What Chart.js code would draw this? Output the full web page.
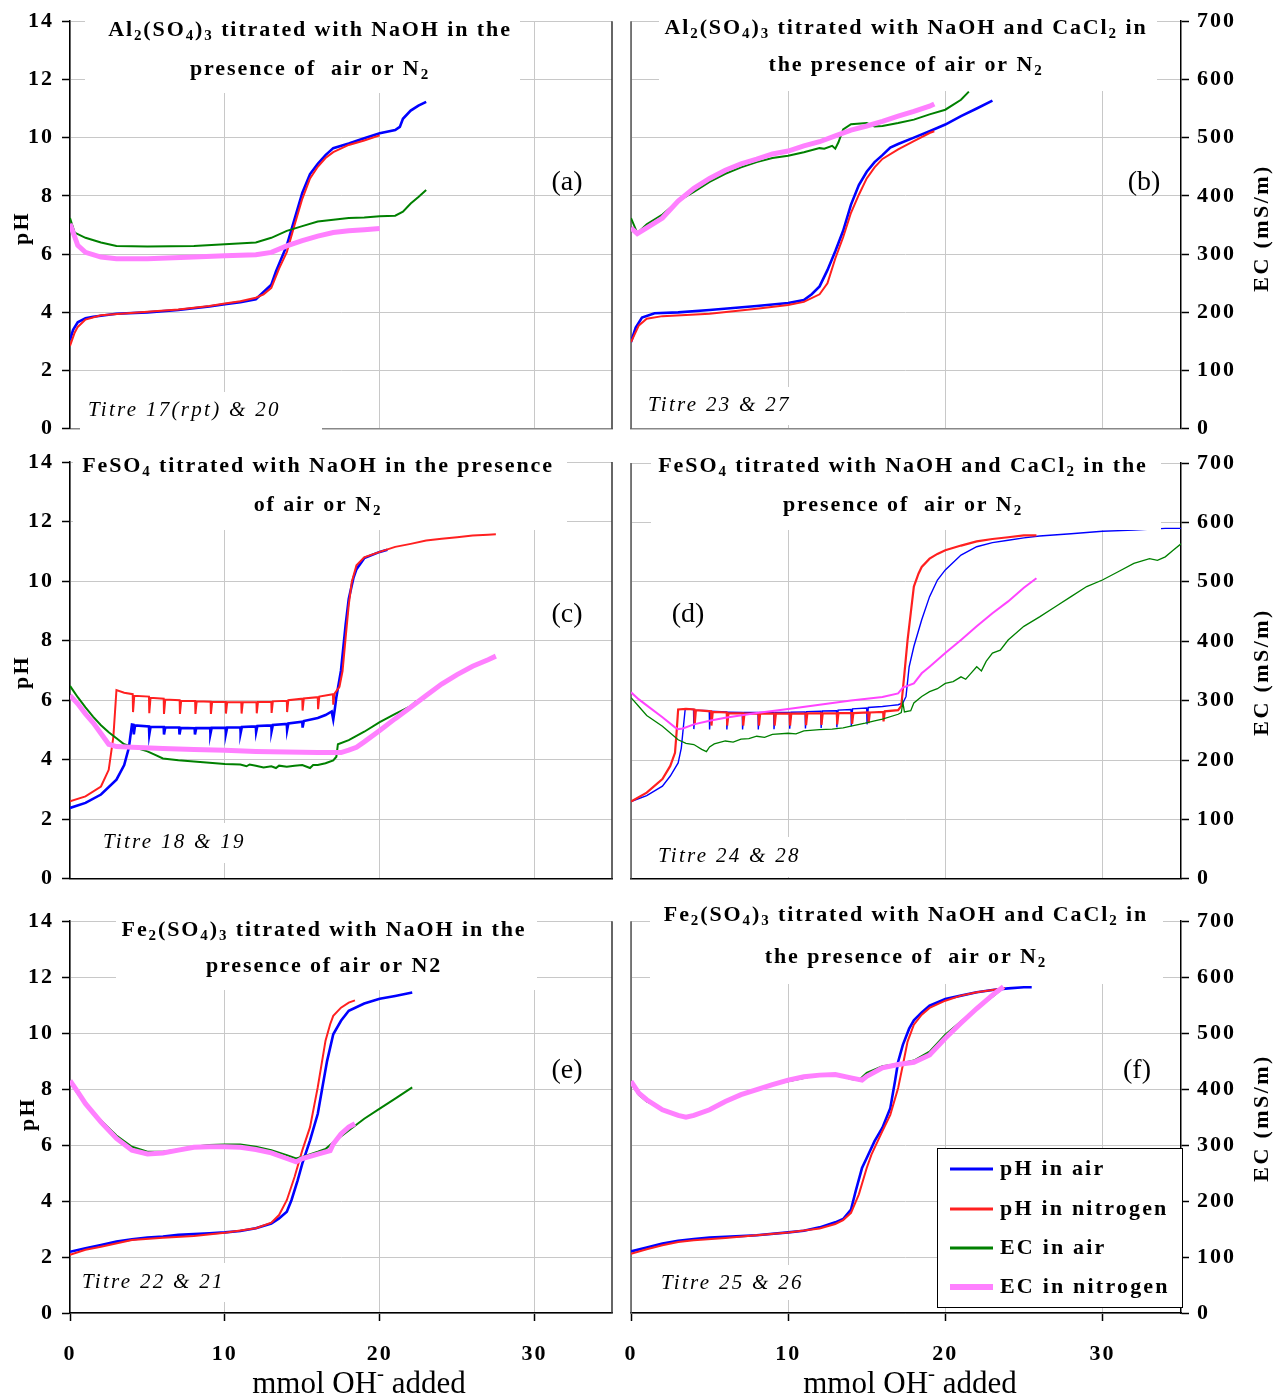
<!DOCTYPE html>
<html lang="en">
<head>
<meta charset="UTF-8">
<title>Titration of Al and Fe sulfates - pH and EC</title>
<style>
  html, body { margin: 0; padding: 0; background: #fff; }
  body { width: 1281px; height: 1400px; position: relative; overflow: hidden; }
  canvas { position: absolute; }
</style>
</head>
<body>

<script src="https://cdn.jsdelivr.net/npm/chart.js"></script>
<script>
// ---- axis ticks and legend names ----
const pHTicks = [0, 2, 4, 6, 8, 10, 12, 14];
const ecTicks = [0, 100, 200, 300, 400, 500, 600, 700];
const mmolTicks = [0, 10, 20, 30];
const seriesNames = ['pH in air', 'pH in nitrogen', 'EC in air', 'EC in nitrogen'];

// ---- (a) Al2(SO4)3 + NaOH : [mmol OH-, pH] and [mmol OH-, EC mS/m] ----
const aPhAir = [[0,3.05],[0.2,3.4],[0.5,3.66],[1,3.8],[1.5,3.85],[3,3.95],[5,4.0],[7,4.08],[9,4.2],[10,4.28],[11,4.35],[12,4.45],[12.5,4.7],[13,4.95],[13.3,5.4],[14,6.3],[14.5,7.2],[15,8.1],[15.5,8.75],[16,9.1],[16.5,9.4],[17,9.64],[18,9.8],[19,9.98],[20,10.15],[21,10.26],[21.3,10.37],[21.5,10.65],[22,10.93],[22.5,11.1],[23,11.23]];
const aPhN2 = [[0,2.85],[0.3,3.3],[0.5,3.5],[1,3.75],[2,3.9],[5,4.02],[7,4.1],[9,4.22],[10,4.3],[11,4.38],[12,4.5],[12.5,4.62],[13,4.84],[13.5,5.5],[14,6.07],[14.5,7.0],[15,7.9],[15.5,8.6],[16,9.0],[16.5,9.3],[17,9.5],[18,9.75],[19,9.9],[20,10.08]];
const aEcAir = [[0,362],[0.3,337],[1,328],[2,320],[3,314],[5,313],[8,314],[10,317],[12,320],[13,328],[14,340],[15,348],[16,356],[17,359],[18,362],[19,363],[20,365],[21,366],[21.5,373],[22,387],[22.5,398],[23,410]];
const aEcN2 = [[0,352],[0.3,330],[0.5,315],[1,303],[2,295],[3,292],[5,292],[8,295],[10,297],[12,299],[13,303],[14,314],[15,323],[16,331],[17,337],[18,340],[19,342],[20,344]];

// ---- (b) Al2(SO4)3 + NaOH + CaCl2 ----
const bPhAir = [[0,2.98],[0.3,3.48],[0.7,3.82],[1.5,3.97],[3,4.0],[5,4.08],[8,4.22],[10,4.32],[11,4.42],[11.5,4.62],[12,4.89],[12.5,5.45],[13,6.1],[13.5,6.8],[14,7.7],[14.5,8.37],[15,8.83],[15.5,9.16],[16,9.4],[16.5,9.66],[17,9.78],[18,10.0],[19,10.22],[20,10.45],[21,10.74],[22,11.0],[23,11.27]];
const bPhN2 = [[0,2.98],[0.5,3.55],[1,3.78],[2,3.87],[5,3.95],[8,4.12],[10,4.25],[11,4.36],[12,4.62],[12.5,5.0],[13,5.85],[13.5,6.58],[14,7.42],[14.5,8.04],[15,8.6],[15.5,8.98],[16,9.27],[17,9.6],[18,9.88],[19,10.16],[19.3,10.22]];
const bEcAir = [[0,362],[0.4,336],[1,351],[2,368],[3,391],[4,407],[5,424],[6,438],[7,449],[8,458],[9,465],[10,469],[11,475],[12,482],[12.3,481],[12.8,486],[13,481],[13.2,492],[13.5,514],[14,523],[15,525],[15.5,519],[16,520],[17,525],[18,531],[19,540],[20,548],[21,565],[21.5,579]];
const bEcN2 = [[0,345],[0.4,335],[1,345],[2,362],[3,391],[4,413],[5,430],[6,444],[7,455],[8,463],[9,472],[10,477],[11,486],[12,493],[13,503],[14,513],[15,520],[16,528],[17,537],[18,545],[19,554],[19.3,558]];

// ---- (c) FeSO4 + NaOH ----
const cPhAir = [[0,2.38],[1,2.55],[2,2.83],[3,3.33],[3.5,3.82],[3.8,4.4],[4.0,5.18],[4.1,5.17],[4.12,4.85],[4.2,5.15],[5.1,5.12],[5.12,4.85],[5.2,5.1],[6.05,5.1],[6.07,4.85],[6.15,5.08],[7.05,5.08],[7.07,4.85],[7.15,5.07],[8.05,5.06],[8.07,4.85],[8.15,5.06],[9.05,5.06],[9.07,4.87],[9.15,5.07],[10.05,5.07],[10.07,4.88],[10.15,5.08],[11.0,5.09],[11.02,4.9],[11.1,5.1],[12.0,5.12],[12.02,4.93],[12.1,5.13],[13.0,5.15],[13.02,4.97],[13.1,5.17],[14.0,5.2],[14.02,5.0],[14.1,5.22],[15,5.28],[15.02,5.08],[15.1,5.3],[16,5.4],[16.5,5.5],[16.9,5.62],[17.0,5.35],[17.1,5.7],[17.2,6.1],[17.5,7.0],[17.8,8.54],[18.0,9.4],[18.3,10.1],[18.5,10.4],[19,10.77],[20,10.98],[20.5,11.05]];
const cPhN2 = [[0,2.6],[1,2.77],[2,3.1],[2.5,3.66],[2.8,4.77],[3.0,6.34],[3.5,6.25],[4.05,6.2],[4.07,5.6],[4.15,6.15],[5.1,6.12],[5.12,5.56],[5.2,6.08],[6.05,6.05],[6.07,5.54],[6.15,6.02],[7.08,6.0],[7.1,5.54],[7.18,5.98],[8.08,5.97],[8.1,5.54],[8.18,5.96],[9.08,5.95],[9.1,5.54],[9.18,5.94],[10.05,5.94],[10.07,5.55],[10.15,5.93],[11.06,5.93],[11.08,5.55],[11.16,5.93],[12.04,5.93],[12.06,5.56],[12.14,5.94],[13.0,5.95],[13.02,5.57],[13.1,5.96],[14.0,5.98],[14.02,5.6],[14.1,6.0],[15.0,6.05],[15.02,5.65],[15.1,6.06],[16.0,6.1],[16.02,5.7],[16.1,6.12],[16.98,6.2],[17.0,5.85],[17.08,6.22],[17.4,6.45],[17.6,6.98],[17.8,8.1],[18.0,9.2],[18.2,9.98],[18.5,10.53],[19,10.8],[20,10.98],[21,11.15],[22,11.25],[23,11.36],[24,11.42],[25,11.47],[26,11.53],[27,11.56],[27.5,11.57]];
const cEcAir = [[0,324],[0.5,305],[1,288],[1.5,272],[2,258],[2.5,246],[3,236],[3.5,226],[4,222],[5,214],[5.5,208],[6,202],[7,199],[8,197],[9,195],[10,193],[11,192],[11.4,189],[11.6,192],[12,190],[12.5,187],[13,189],[13.3,186],[13.5,190],[14,188],[14.5,190],[15,191],[15.5,186],[15.7,191],[16,191],[16.5,194],[17,199],[17.2,205],[17.3,226],[18,233],[19,247],[20,263],[21,277],[22,290],[22.4,299]];
const cEcN2 = [[0,308],[0.5,294],[1,277],[1.5,262],[2,244],[2.5,226],[3,222],[4,221],[6,219],[8,217],[10,216],[12,214],[14,213],[16,212],[17.5,212],[18,216],[18.5,221],[19,230],[20,249],[21,269],[22,288],[23,308],[24,327],[25,343],[26,357],[27,368],[27.5,374]];

// ---- (d) FeSO4 + NaOH + CaCl2 ----
const dPhAir = [[0,2.6],[1,2.8],[2,3.12],[2.5,3.46],[3,3.9],[3.2,4.4],[3.35,5.2],[3.45,5.72],[3.98,5.7],[4.0,5.04],[4.08,5.68],[4.98,5.66],[5.0,5.03],[5.08,5.64],[6.08,5.62],[6.1,5.03],[6.18,5.61],[7.08,5.6],[7.1,5.03],[7.18,5.6],[8.08,5.6],[8.1,5.03],[8.18,5.6],[9.08,5.6],[9.1,5.04],[9.18,5.6],[10.08,5.6],[10.1,5.05],[10.18,5.61],[11.08,5.62],[11.1,5.06],[11.18,5.63],[12.08,5.64],[12.1,5.08],[12.18,5.65],[13.08,5.66],[13.1,5.1],[13.18,5.68],[14.0,5.7],[14.02,5.14],[14.1,5.72],[15.0,5.75],[15.02,5.2],[15.1,5.77],[16.0,5.8],[16.5,5.83],[17.0,5.86],[17.3,5.92],[17.5,6.14],[17.7,7.14],[18,7.82],[18.5,8.72],[19,9.5],[19.5,10.06],[20,10.4],[21,10.9],[22,11.18],[23,11.32],[24,11.4],[25,11.48],[26,11.54],[28,11.62],[30,11.7],[32,11.74],[34,11.8],[35,11.8]];
const dPhN2 = [[0,2.6],[1,2.9],[2,3.36],[2.5,3.8],[2.8,4.24],[2.9,4.92],[3.0,5.7],[3.5,5.72],[4.03,5.7],[4.05,5.18],[4.13,5.68],[5.1,5.64],[5.12,5.16],[5.2,5.62],[6.1,5.6],[6.12,5.16],[6.2,5.58],[7.12,5.57],[7.14,5.16],[7.22,5.56],[8.12,5.56],[8.14,5.16],[8.22,5.56],[9.12,5.56],[9.14,5.16],[9.22,5.56],[10.1,5.56],[10.12,5.16],[10.2,5.56],[11.12,5.56],[11.14,5.17],[11.22,5.57],[12.1,5.57],[12.12,5.18],[12.2,5.57],[13.1,5.58],[13.12,5.2],[13.2,5.58],[14.05,5.58],[14.07,5.22],[14.15,5.58],[15.1,5.6],[15.12,5.24],[15.2,5.6],[16.05,5.62],[16.07,5.3],[16.15,5.64],[17.0,5.68],[17.2,5.82],[17.4,6.92],[17.6,8.04],[17.8,8.94],[18,9.84],[18.3,10.28],[18.5,10.5],[19,10.78],[19.5,10.94],[20,11.06],[21,11.22],[22,11.36],[23,11.44],[24,11.5],[25,11.56],[25.8,11.56]];
const dEcAir = [[0,305],[0.5,290],[1,275],[2,257],[3,234],[3.5,228],[4,226],[4.5,218],[4.8,214],[5,222],[5.3,227],[6,232],[6.5,230],[7,235],[7.5,236],[8,240],[8.5,238],[9,243],[10,245],[10.5,244],[11,249],[12,251],[12.8,252],[13.5,254],[14,257],[14.9,262],[15.5,266],[16,269],[17,277],[17.2,280],[17.3,297],[17.4,281],[17.8,283],[18,296],[18.5,307],[19,315],[19.5,320],[20,329],[20.5,332],[21,340],[21.3,336],[21.6,345],[22,357],[22.3,350],[22.6,366],[23,380],[23.5,385],[24,402],[25,425],[26,441],[27,458],[28,475],[29,492],[30,503],[31,517],[32,531],[33,539],[33.5,536],[34,542],[34.5,553],[35,564]];
const dEcN2 = [[0,314],[0.5,302],[1,292],[2,272],[2.8,255],[3,252],[3.3,253],[4,260],[5,266],[6,271],[8,279],[10,286],[12,293],[14,300],[16,306],[17,312],[17.3,322],[18,329],[18.5,346],[19,357],[20,380],[21,402],[22,425],[23,447],[24,467],[25,490],[25.8,506]];

// ---- (e) Fe2(SO4)3 + NaOH ----
const ePhAir = [[0,2.19],[1,2.31],[2,2.43],[3,2.55],[4,2.63],[5,2.7],[6,2.73],[7,2.79],[8,2.82],[9,2.85],[10,2.88],[11,2.93],[12,3.03],[13,3.2],[13.5,3.38],[14,3.62],[14.3,4.03],[14.7,4.74],[15,5.34],[15.5,6.17],[16,7.12],[16.3,8.07],[16.6,9.0],[17,9.96],[17.5,10.44],[18,10.8],[19,11.06],[20,11.23],[21,11.33],[22.1,11.45]];
const ePhN2 = [[0,2.08],[1,2.26],[2,2.37],[4,2.61],[6,2.69],[8,2.75],[10,2.87],[12,3.03],[13,3.23],[13.5,3.5],[14,4.03],[14.5,4.86],[15,5.81],[15.5,6.64],[16,8.07],[16.5,9.73],[16.8,10.32],[17,10.62],[17.5,10.91],[18,11.09],[18.4,11.17]];
const eEcAir = [[0,412],[0.5,392],[1,374],[2,344],[3,317],[4,297],[5,288],[6,288],[7,292],[8,297],[9,300],[10,301],[11,301],[12,297],[13,291],[14,282],[14.6,276],[15,279],[16,288],[16.5,293],[17,305],[18,326],[19,347],[20,365],[21,383],[22.1,403]];
const eEcN2 = [[0,415],[0.5,395],[1,374],[2,341],[3,312],[4,291],[5,284],[6,286],[7,291],[8,296],[9,297],[10,297],[11,296],[12,292],[13,286],[14,276],[14.6,270],[15,276],[16,284],[16.8,290],[17,302],[17.5,320],[18,332],[18.4,338]];

// ---- (f) Fe2(SO4)3 + NaOH + CaCl2 ----
const fPhAir = [[0,2.2],[1,2.34],[2,2.48],[3,2.58],[4,2.64],[5,2.7],[6,2.72],[8,2.78],[10,2.88],[11,2.94],[12,3.06],[13,3.24],[13.5,3.36],[14,3.7],[14.3,4.36],[14.7,5.18],[15,5.54],[15.5,6.14],[16,6.62],[16.5,7.32],[16.8,8.28],[17,8.98],[17.3,9.58],[17.7,10.16],[18,10.46],[18.5,10.74],[19,10.98],[20,11.22],[21,11.34],[22,11.46],[23,11.54],[24,11.6],[25,11.64],[25.5,11.64]];
const fPhN2 = [[0,2.12],[1,2.28],[2,2.42],[3,2.54],[4,2.6],[6,2.68],[8,2.78],[10,2.88],[12,3.02],[13,3.18],[13.5,3.32],[14,3.58],[14.5,4.24],[15,5.18],[15.3,5.66],[15.7,6.14],[16,6.5],[16.5,7.08],[17,8.04],[17.3,8.86],[17.6,9.7],[18,10.3],[18.5,10.66],[19,10.9],[20,11.16],[21,11.34],[22,11.46],[23,11.54],[23.8,11.6]];
const fEcAir = [[0,411],[0.5,390],[1,378],[1.5,371],[2,363],[3,354],[3.5,351],[4,354],[5,363],[6,378],[7,390],[8,400],[9,408],[10,414],[11,420],[12,426],[13,426],[13.5,423],[14,418],[14.5,416],[15,429],[16,441],[17,445],[18,451],[19,467],[20,497],[21,521],[22,544],[23,565],[23.7,581]];
const fEcN2 = [[0,414],[0.5,393],[1,381],[2,363],[3,353],[3.5,350],[4,353],[5,363],[6,378],[7,390],[8,399],[9,408],[10,416],[11,422],[12,425],[13,426],[14,420],[14.7,416],[15,423],[16,438],[17,444],[18,448],[19,461],[20,491],[21,518],[22,544],[23,568],[23.7,583]];

// ---- layout of the six panels (page pixels) ----
const panels = [
  { side: 'left', left: 0, top: 0, w: 640, h: 450, plotTop: 17, plotBottom: 435, showX: false, xBorder: '#888',
    series: [aPhAir, aPhN2, aEcAir, aEcN2],
    title: ['Al_2(SO_4)_3 titrated with NaOH in the', 'presence of  air or N_2'], titleX: 310, titleY: [30, 69],
    titleBox: [85, 8, 520, 93], tag: '(a)', tagPos: [567, 183],
    titre: 'Titre 17(rpt) & 20', titrePos: [88, 410], titreBox: [80, 392, 322, 438], axisTitle: [22, 228] },
  { side: 'right', left: 620, top: 0, w: 661, h: 450, plotTop: 19, plotBottom: 436, showX: false, xBorder: '#888',
    series: [bPhAir, bPhN2, bEcAir, bEcN2],
    title: ['Al_2(SO_4)_3 titrated with NaOH and CaCl_2 in', 'the presence of air or N_2'], titleX: 906, titleY: [28, 65],
    titleBox: [659, 8, 1157, 91], tag: '(b)', tagPos: [1144, 183],
    titre: 'Titre 23 & 27', titrePos: [648, 405], titreBox: [640, 387, 800, 425], axisTitle: [1262, 228] },
  { side: 'left', left: 0, top: 440, w: 640, h: 460, plotTop: 462, plotBottom: 883, showX: false, xBorder: '#000',
    series: [cPhAir, cPhN2, cEcAir, cEcN2],
    title: ['FeSO_4 titrated with NaOH in the presence', 'of air or N_2'], titleX: 318, titleY: [466, 505],
    titleBox: [73, 452, 567, 530], tag: '(c)', tagPos: [567, 615],
    titre: 'Titre 18 & 19', titrePos: [103, 842], titreBox: [92, 823, 262, 863], axisTitle: [22, 672] },
  { side: 'right', left: 620, top: 440, w: 661, h: 460, plotTop: 463, plotBottom: 880, showX: false, xBorder: '#000', thin: true,
    series: [dPhAir, dPhN2, dEcAir, dEcN2],
    title: ['FeSO_4 titrated with NaOH and CaCl_2 in the', 'presence of  air or N_2'], titleX: 903, titleY: [466, 505],
    titleBox: [651, 452, 1161, 530], tag: '(d)', tagPos: [688, 615],
    titre: 'Titre 24 & 28', titrePos: [658, 856], titreBox: [648, 837, 800, 877], axisTitle: [1262, 672] },
  { side: 'left', left: 0, top: 900, w: 640, h: 500, plotTop: 918, plotBottom: 1313, showX: true, xBorder: '#000',
    series: [ePhAir, ePhN2, eEcAir, eEcN2],
    title: ['Fe_2(SO_4)_3 titrated with NaOH in the', 'presence of air or N2'], titleX: 324, titleY: [930, 966],
    titleBox: [116, 908, 537, 990], tag: '(e)', tagPos: [567, 1071],
    titre: 'Titre 22 & 21', titrePos: [82, 1282], titreBox: [76, 1263, 230, 1302], axisTitle: [28, 1114],
    xTitle: [359, 1385] },
  { side: 'right', left: 620, top: 900, w: 661, h: 500, plotTop: 920, plotBottom: 1313, showX: true, xBorder: '#000',
    series: [fPhAir, fPhN2, fEcAir, fEcN2],
    title: ['Fe_2(SO_4)_3 titrated with NaOH and CaCl_2 in', 'the presence of  air or N_2'], titleX: 906, titleY: [915, 957],
    titleBox: [650, 903, 1163, 984], tag: '(f)', tagPos: [1137, 1071],
    titre: 'Titre 25 & 26', titrePos: [661, 1283], titreBox: [650, 1265, 800, 1300], axisTitle: [1262, 1118],
    xTitle: [910, 1385], legend: [937, 1148, 1182, 1307] }
];

const SERIF = '"Liberation Serif", "Times New Roman", serif';
const colors = ['#0000ff', '#ff2020', '#008000', '#ff80ff'];

// text with _x subscripts and ^x superscripts
function richText(ctx, text, x, y, size, style, align, spacing) {
  const parts = [];
  for (let i = 0; i < text.length; i++) {
    const c = text[i];
    if ((c === '_' || c === '^') && i + 1 < text.length) {
      parts.push({ s: text[i + 1], k: c });
      i++;
    } else if (parts.length && parts[parts.length - 1].k === '') {
      parts[parts.length - 1].s += c;
    } else {
      parts.push({ s: c, k: '' });
    }
  }
  const fontOf = k => style + ' ' + (k ? Math.round(size * 0.68) : size) + 'px ' + SERIF;
  ctx.letterSpacing = (spacing || 0) + 'px';
  let w = 0;
  parts.forEach(p => { ctx.font = fontOf(p.k); p.w = ctx.measureText(p.s).width; w += p.w; });
  let cx = align === 'center' ? x - w / 2 : x;
  ctx.textAlign = 'left';
  ctx.textBaseline = 'middle';
  ctx.fillStyle = '#000';
  parts.forEach(p => {
    ctx.font = fontOf(p.k);
    const dy = p.k === '_' ? size * 0.3 : (p.k === '^' ? -size * 0.35 : 0);
    ctx.fillText(p.s, cx, y + dy);
    cx += p.w;
  });
  ctx.letterSpacing = '0px';
}

function decorPlugin(p) {
  return {
    id: 'decor',
    beforeDraw(chart) {
      chart.ctx.letterSpacing = '2px';   // wide Excel-like tick digits
    },
    beforeDatasetsDraw(chart) {
      const ctx = chart.ctx, a = chart.chartArea;
      ctx.save();
      ctx.lineWidth = 1.5;
      ctx.beginPath();
      if (p.side === 'left') {
        ctx.strokeStyle = '#333';
        ctx.moveTo(a.right, a.top); ctx.lineTo(a.right, a.bottom);
      } else {
        ctx.strokeStyle = '#555';
        ctx.moveTo(a.left, a.top); ctx.lineTo(a.left, a.bottom);
      }
      ctx.stroke();
      ctx.restore();
    },
    afterDatasetsDraw(chart) {
      const ctx = chart.ctx;
      ctx.save();
      ctx.translate(-p.left, -p.top);
      // title box and title
      const tb = p.titleBox;
      ctx.fillStyle = '#fff';
      ctx.fillRect(tb[0], tb[1], tb[2] - tb[0], tb[3] - tb[1]);
      p.title.forEach((t, i) => richText(ctx, t, p.titleX, p.titleY[i], 22, 'bold', 'center', 1.9));
      // titre label
      const rb = p.titreBox;
      ctx.fillStyle = '#fff';
      ctx.fillRect(rb[0], rb[1], rb[2] - rb[0], rb[3] - rb[1]);
      richText(ctx, p.titre, p.titrePos[0], p.titrePos[1], 21, 'italic', 'left', 2.3);
      // panel letter
      richText(ctx, p.tag, p.tagPos[0], p.tagPos[1], 28, 'normal', 'center', 0);
      // axis title
      ctx.save();
      ctx.translate(p.axisTitle[0], p.axisTitle[1]);
      ctx.rotate(-Math.PI / 2);
      richText(ctx, p.side === 'left' ? 'pH' : 'EC (mS/m)', 0, 0, 22, 'bold', 'center', 2.4);
      ctx.restore();
      if (p.xTitle) {
        richText(ctx, 'mmol OH^- added', p.xTitle[0], p.xTitle[1], 31, 'normal', 'center', 0);
      }
      if (p.legend) {
        const L = p.legend;
        ctx.fillStyle = '#fff';
        ctx.fillRect(L[0], L[1], L[2] - L[0], L[3] - L[1]);
        ctx.strokeStyle = '#000';
        ctx.lineWidth = 1;
        ctx.strokeRect(L[0] + 0.5, L[1] + 0.5, L[2] - L[0], L[3] - L[1]);
        const rowY = [1169, 1209, 1248, 1287];
        chart.data.datasets.forEach((ds, i) => {
          ctx.strokeStyle = ds.borderColor;
          ctx.lineWidth = i === 3 ? 6 : 3;
          ctx.beginPath();
          ctx.moveTo(950, rowY[i]); ctx.lineTo(993, rowY[i]);
          ctx.stroke();
          richText(ctx, ds.label, 1000, rowY[i], 22, 'bold', 'left', 2.2);
        });
      }
      ctx.restore();
    }
  };
}

function buildPanel(p) {
  const cv = document.createElement('canvas');
  cv.width = p.w; cv.height = p.h;
  cv.style.left = p.left + 'px'; cv.style.top = p.top + 'px';
  cv.style.width = p.w + 'px'; cv.style.height = p.h + 'px';
  document.body.appendChild(cv);

  const widths = p.thin ? [1.4, 2.2, 1.3, 2] : [2.6, 2, 2, 5];
  const lineColors = p.thin ? ['#0000ff', '#ff2020', '#008000', '#ff44ff'] : colors;
  const datasets = p.series.map((s, i) => ({
    label: seriesNames[i],
    data: s,
    yAxisID: i < 2 ? 'y' : 'y2',
    borderColor: lineColors[i],
    backgroundColor: lineColors[i],
    borderWidth: widths[i],
    pointRadius: 0,
    tension: 0,
    fill: false,
    order: 4 - i
  }));

  const tickFont = { family: SERIF, size: 22, weight: 'bold' };
  const gridCol = '#c8c8c8';
  const xHeight = p.top + p.h - p.plotBottom;
  const leftShown = p.side === 'left';

  new Chart(cv, {
    type: 'line',
    data: { datasets },
    options: {
      responsive: false,
      animation: false,
      events: [],
      layout: {
        padding: leftShown
          ? { top: p.plotTop - p.top, right: 28, left: 0, bottom: 0 }
          : { top: p.plotTop - p.top, right: 0, left: 11, bottom: 0 }
      },
      plugins: { legend: { display: false }, tooltip: { enabled: false } },
      scales: {
        x: {
          type: 'linear', min: 0, max: 35,
          afterBuildTicks: s => { s.ticks = mmolTicks.map(v => ({ value: v })); },
          afterFit: s => { s.height = xHeight; s.paddingLeft = 0; s.paddingRight = 0; },
          grid: { color: gridCol, lineWidth: 1, drawTicks: p.showX, tickLength: 8, tickColor: '#000', tickWidth: 1.5 },
          border: { color: p.xBorder, width: 1.5 },
          ticks: { display: p.showX, padding: 20, color: '#000', font: tickFont }
        },
        y: {
          position: 'left', display: leftShown, min: 0, max: 14,
          afterBuildTicks: s => { s.ticks = pHTicks.map(v => ({ value: v })); },
          afterFit: s => { s.width = leftShown ? 70 : 0; },
          grid: { color: gridCol, lineWidth: 1, tickLength: 8, tickColor: '#000', tickWidth: 1.5 },
          border: { color: '#000', width: 1.5 },
          ticks: { padding: 8, color: '#000', font: tickFont }
        },
        y2: {
          position: 'right', display: !leftShown, min: 0, max: 700,
          afterBuildTicks: s => { s.ticks = ecTicks.map(v => ({ value: v })); },
          afterFit: s => { s.width = leftShown ? 0 : 100; },
          grid: { color: gridCol, lineWidth: 1, tickLength: 8, tickColor: '#000', tickWidth: 1.5 },
          border: { color: '#000', width: 1.5 },
          ticks: { padding: 8, color: '#000', font: tickFont }
        }
      }
    },
    plugins: [decorPlugin(p)]
  });
}

panels.forEach(buildPanel);
</script>
</body>
</html>
